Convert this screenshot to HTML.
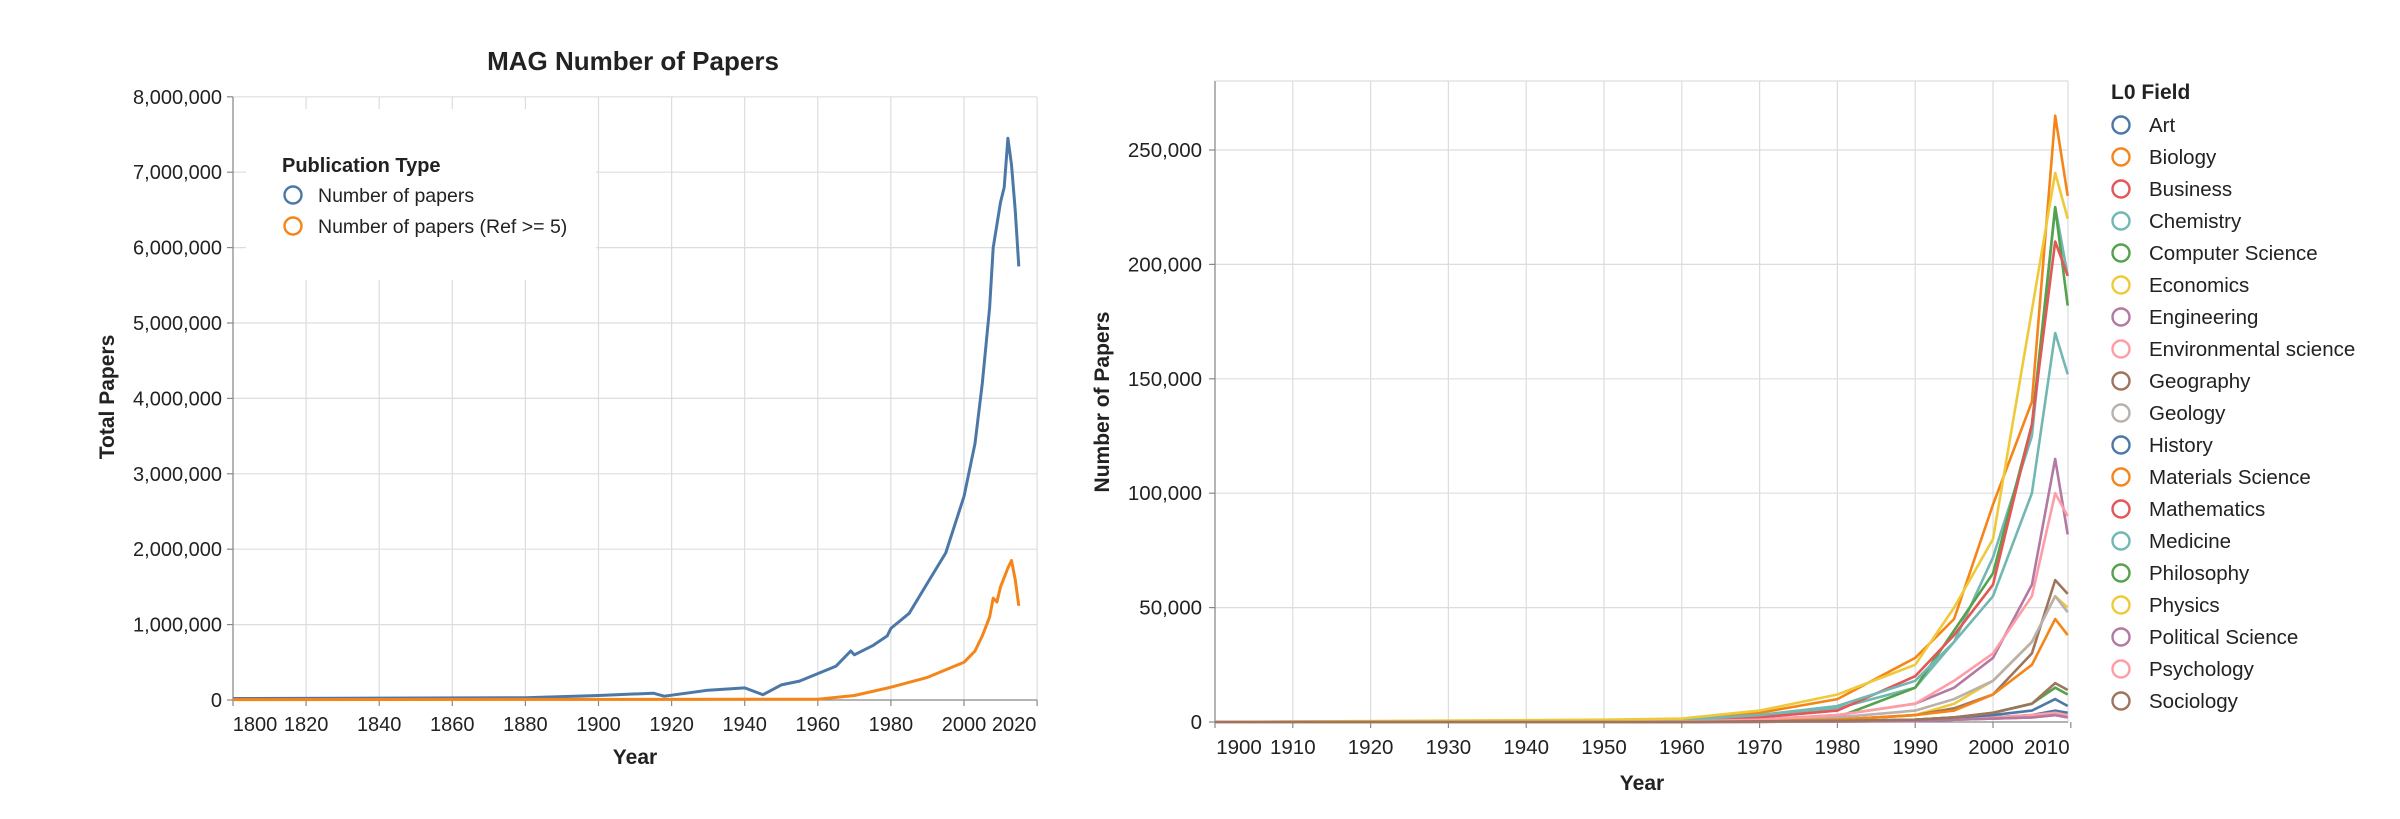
<!DOCTYPE html>
<html><head><meta charset="utf-8"><style>
body{margin:0;background:#fff}
svg{display:block}
text{font-family:"Liberation Sans",Arial,sans-serif;fill:#222}
</style></head><body>
<svg id="s" width="2400" height="819" viewBox="0 0 2400 819" xmlns="http://www.w3.org/2000/svg">
<rect x="0" y="0" width="2400" height="819" fill="#fff"/>
<g id="g"></g>
<text x="633" y="70" font-size="26" font-weight="bold" text-anchor="middle">MAG Number of Papers</text>
<text transform="translate(114,397) rotate(-90)" font-size="21" font-weight="bold" text-anchor="middle">Total Papers</text>
<text x="635" y="764" font-size="21" font-weight="bold" text-anchor="middle">Year</text>
<text transform="translate(1109,402) rotate(-90)" font-size="21" font-weight="bold" text-anchor="middle">Number of Papers</text>
<text x="1642" y="790" font-size="21" font-weight="bold" text-anchor="middle">Year</text>
</svg>
<script>
var g=document.getElementById('g'),h='';
function L(x1,y1,x2,y2,c,w){h+='<line x1="'+x1+'" y1="'+y1+'" x2="'+x2+'" y2="'+y2+'" stroke="'+c+'" stroke-width="'+(w||1.2)+'"/>';}
function T(x,y,t,a,s,b){h+='<text x="'+x+'" y="'+y+'" font-size="'+(s||16)+'" text-anchor="'+(a||'middle')+'"'+(b?' font-weight="bold"':'')+'>'+t+'</text>';}
function P(pts,c,w){h+='<polyline fill="none" stroke="'+c+'" stroke-width="'+(w||2.5)+'" stroke-linejoin="round" points="'+pts.map(function(p){return p[0].toFixed(1)+','+p[1].toFixed(1)}).join(' ')+'"/>';}
function C(x,y,c){h+='<circle cx="'+x+'" cy="'+y+'" r="8.5" fill="none" stroke="'+c+'" stroke-width="2.4"/>';}
// LEFT
var lx=function(y){return 233+(y-1800)*3.655}, ly=function(v){return 700-v*75.4};
for(var i=0;i<=11;i++){var x=lx(1800+i*20);L(x,97,x,700,'#ddd');}
for(var i=1;i<=8;i++){L(233,ly(i),1037,ly(i),'#ddd');}
h+='<rect x="246" y="109" width="350" height="171" fill="#fff"/>';
L(233,97,233,700,'#888');L(233,700,1037,700,'#888');
for(var i=0;i<=8;i++){L(227,ly(i),233,ly(i),'#888');T(222,ly(i)+7,(i?i+',000,000':'0'),'end',20);}
for(var i=0;i<=11;i++){var yr=1800+i*20,x=lx(yr);L(x,700,x,706,'#888');T(i==0?x+22:(i==11?x-23:x),731,yr,'middle',20);}
T(282,172,'Publication Type','start',20,1);
C(293,195,'#4c78a8');T(318,202,'Number of papers','start',19.5);
C(293,226,'#f58518');T(318,233,'Number of papers (Ref &gt;= 5)','start',19.5);
var B=[[1800,.02],[1880,.03],[1900,.06],[1915,.09],[1918,.05],[1930,.13],[1940,.16],[1945,.07],[1950,.2],[1955,.25],[1960,.35],[1965,.45],[1969,.65],[1970,.6],[1975,.72],[1979,.85],[1980,.95],[1985,1.15],[1990,1.55],[1995,1.95],[2000,2.7],[2003,3.4],[2005,4.2],[2007,5.2],[2008,6.0],[2010,6.6],[2011,6.8],[2012,7.45],[2013,7.1],[2014,6.5],[2015,5.75]];
var O=[[1800,.005],[1960,.01],[1970,.06],[1980,.17],[1990,.3],[2000,.5],[2003,.65],[2005,.85],[2007,1.1],[2008,1.35],[2009,1.3],[2010,1.5],[2012,1.75],[2013,1.85],[2014,1.6],[2015,1.25]];
P(B.map(function(p){return[lx(p[0]),ly(p[1])]}),'#4c78a8',3);
P(O.map(function(p){return[lx(p[0]),ly(p[1])]}),'#f58518',3);
// RIGHT
var rx=function(y){return 1215+(y-1900)*7.78}, ry=function(v){return 722-v*2.288};
for(var i=0;i<=11;i++){var x=rx(1900+i*10);if(x<=2069)L(x,81,x,722,'#ddd');}
for(var i=1;i<=5;i++){L(1215,ry(i*50),2068,ry(i*50),'#ddd');}
L(1215,81,2068,81,'#ddd');L(2068,81,2068,722,'#ddd');
L(1215,81,1215,722,'#888');L(1215,722,2068,722,'#888');
for(var i=0;i<=5;i++){L(1209,ry(i*50),1215,ry(i*50),'#888');T(1202,ry(i*50)+7,i?(i*50)+',000':'0','end',20.5);}
for(var i=0;i<=11;i++){var yr=1900+i*10,x=rx(yr);if(x>2072)continue;L(x,722,x,728,'#888');T(i==0?x+24:(i==11?x-24:(i==10?x-2:x)),754,yr,'middle',20.5);}
var yrs=[1900,1950,1960,1970,1980,1990,1995,2000,2005,2008,2009.6];
var S=[
['Art','#4c78a8',[0,0,0,0.1,0.2,0.5,1,2,3,5,4]],
['Biology','#f58518',[0,0.5,1,4,10,28,45,95,140,265,230]],
['Business','#e45756',[0,0,0,0.1,0.2,0.5,1,1.5,2,3,2]],
['Chemistry','#72b7b2',[0,0.5,1,3,6,15,35,72,125,225,195]],
['Computer Science','#54a24b',[0,0,0,0.5,2,15,40,65,130,225,182]],
['Economics','#eeca3b',[0,0,0.2,0.5,1,3,8,18,35,55,50]],
['Engineering','#b279a2',[0,0,0.1,1,3,8,15,28,60,115,82]],
['Environmental science','#ff9da6',[0,0,0,0.1,0.2,0.5,1,2,3,4,3]],
['Geography','#9d755d',[0,0,0,0.5,1,3,6,12,30,62,56]],
['Geology','#bab0ac',[0,0,0.2,1,2,5,10,18,35,55,48]],
['History','#4c78a8',[0,0,0,0.2,0.4,1,2,3,5,10,7]],
['Materials Science','#f58518',[0,0,0,0.5,1,3,5,12,25,45,38]],
['Mathematics','#e45756',[0,0.2,0.5,2,5,20,38,60,130,210,195]],
['Medicine','#72b7b2',[0,0.3,0.8,3,7,18,35,55,100,170,152]],
['Philosophy','#54a24b',[0,0,0,0.2,0.5,1,2,4,8,15,12]],
['Physics','#eeca3b',[0,1,1.5,5,12,25,50,80,180,240,220]],
['Political Science','#b279a2',[0,0,0,0.1,0.2,0.4,1,1.5,2,3,2]],
['Psychology','#ff9da6',[0,0,0.2,1,3,8,18,30,55,100,90]],
['Sociology','#9d755d',[0,0,0,0.3,0.5,1,2,4,8,17,14]]];
S.forEach(function(s){P(yrs.map(function(y,i){return[rx(y),ry(s[2][i])]}),s[1],2.6);});
T(2111,99,'L0 Field','start',21,1);
S.forEach(function(s,i){var y=125+i*32;C(2121,y,s[1]);T(2149,y+7,s[0],'start',20.5);});
g.innerHTML=h;
</script>
</body></html>
